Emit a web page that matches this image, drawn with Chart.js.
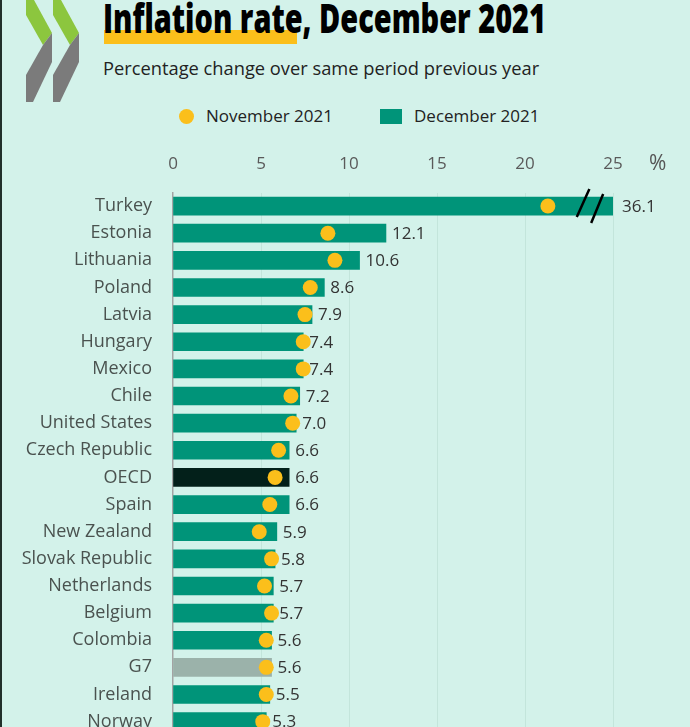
<!DOCTYPE html>
<html><head><meta charset="utf-8">
<script src="https://cdn.jsdelivr.net/npm/chart.js@4.4.1/dist/chart.umd.min.js"></script>
<style>
html,body{margin:0;padding:0;}
body{width:690px;height:727px;overflow:hidden;background:#d3f2ea;position:relative;font-family:"Open Sans",sans-serif;}
#edge{position:absolute;left:0;top:0;width:2px;height:727px;background:#22302b;}
#logo{position:absolute;left:0;top:0;}
#hl{position:absolute;left:104px;top:30px;width:193px;height:14px;background:#fbbf1b;}
#title{position:absolute;left:103px;top:-2px;font-weight:800;font-size:40px;line-height:40px;white-space:nowrap;transform-origin:0 0;color:#000;}
#sub{position:absolute;left:103px;top:56px;font-size:18.3px;line-height:24px;white-space:nowrap;color:#222;}
.lg{position:absolute;font-size:17px;line-height:24px;white-space:nowrap;color:#222;top:104px;}
#dot{position:absolute;left:178.5px;top:108.5px;width:15px;height:15px;border-radius:50%;background:#fbbf1b;}
#sq{position:absolute;left:380px;top:109px;width:22px;height:15px;background:#009479;}
#wrap{position:absolute;left:0;top:140px;width:690px;height:627px;}
</style></head>
<body>
<svg id="logo" width="100" height="110">
  <polygon points="26,0 34,0 52,33 43,45 26,15" fill="#8cc63e"/>
  <polygon points="52,33 52,62 33,102 26,102 26,75 43,45" fill="#7b7b7b"/>
  <polygon points="53,0 61,0 79,33 70,45 53,15" fill="#8cc63e"/>
  <polygon points="79,33 79,62 60,102 53,102 53,75 70,45" fill="#7b7b7b"/>
</svg>
<div id="edge"></div>
<div id="hl"></div>
<div id="title">Inflation rate, December 2021</div>
<div id="sub">Percentage change over same period previous year</div>
<div id="dot"></div><div class="lg" style="left:206px">November 2021</div>
<div id="sq"></div><div class="lg" style="left:414px">December 2021</div>
<div id="wrap"><canvas id="c" width="690" height="627" style="width:690px;height:627px"></canvas></div>
<script>
const categories = ["Turkey","Estonia","Lithuania","Poland","Latvia","Hungary","Mexico","Chile","United States","Czech Republic","OECD","Spain","New Zealand","Slovak Republic","Netherlands","Belgium","Colombia","G7","Ireland","Norway"];
const dec2021 = [36.1,12.1,10.6,8.6,7.9,7.4,7.4,7.2,7.0,6.6,6.6,6.6,5.9,5.8,5.7,5.7,5.6,5.6,5.5,5.3];
const nov2021 = [21.3,8.8,9.2,7.8,7.5,7.4,7.4,6.7,6.8,6.0,5.8,5.5,4.9,5.6,5.2,5.6,5.3,5.3,5.3,5.1];
const xTickStep = 5;
const xMax = 25;
const breakAt = [23.3, 24.1];

const t = document.getElementById('title');
const w = t.getBoundingClientRect().width;
t.style.transform = 'scaleX(' + (443 / w) + ')';

const barColors = categories.map(c => c === 'OECD' ? '#03201a' : (c === 'G7' ? '#9bb2aa' : '#009479'));

const labelsPlugin = {
  id: 'labels',
  afterDatasetsDraw(chart) {
    const ctx = chart.ctx;
    const area = chart.chartArea;
    const meta = chart.getDatasetMeta(1);
    ctx.save();
    ctx.font = '17px "Open Sans"';
    ctx.fillStyle = '#333';
    ctx.textBaseline = 'middle';
    ctx.textAlign = 'left';
    meta.data.forEach((bar, i) => {
      const clipped = bar.x > area.right;
      const x = Math.min(bar.x, area.right) + (clipped ? 9 : 6);
      ctx.fillText(dec2021[i].toFixed(1), x, bar.y + 1);
    });
    const xs = chart.scales.x;
    meta.data.forEach((bar, i) => {
      if (dec2021[i] <= xMax) return;
      ctx.strokeStyle = '#000';
      ctx.lineWidth = 2.5;
      const x1 = xs.getPixelForValue(breakAt[0]);
      const x2 = xs.getPixelForValue(breakAt[1]);
      ctx.beginPath();
      ctx.moveTo(x1 + 6.3, bar.y - 17); ctx.lineTo(x1 - 6.3, bar.y + 11);
      ctx.moveTo(x2 + 6, bar.y - 12); ctx.lineTo(x2 - 6, bar.y + 17);
      ctx.stroke();
    });
    ctx.font = '21px "Open Sans"';
    ctx.fillStyle = '#555';
    ctx.fillText('%', 649, 24);
    ctx.restore();
  }
};

new Chart(document.getElementById('c'), {
  type: 'bar',
  data: {
    labels: categories,
    datasets: [
      {
        type: 'line',
        label: 'November 2021',
        data: nov2021,
        indexAxis: 'y',
        showLine: false,
        pointRadius: 7.5,
        pointHoverRadius: 7.5,
        pointBackgroundColor: '#fbbf1b',
        pointBorderWidth: 0,
        borderColor: '#fbbf1b',
        backgroundColor: '#fbbf1b',
        order: 0,
        clip: false
      },
      {
        type: 'bar',
        label: 'December 2021',
        data: dec2021,
        backgroundColor: barColors,
        barThickness: 18,
        order: 1
      }
    ]
  },
  options: {
    indexAxis: 'y',
    responsive: false,
    animation: false,
    layout: { padding: { left: 0, right: 77, top: 0, bottom: 6.2 } },
    plugins: { legend: { display: false }, tooltip: { enabled: false } },
    scales: {
      x: {
        position: 'top',
        min: 0, max: xMax,
        ticks: { stepSize: xTickStep, padding: 18, color: '#5a5a5a', font: { family: '"Open Sans"', size: 17 } },
        grid: { drawTicks: false, color: ctx => ctx.tick && ctx.tick.value === 0 ? 'rgba(0,0,0,0)' : '#c3e5db', lineWidth: 1 },
        border: { display: false },
        afterFit(s) { s.height = 52.5; }
      },
      y: {
        ticks: { padding: 21, color: '#4a524f', font: { family: '"Open Sans"', size: 18 } },
        grid: { display: false, drawTicks: false },
        border: { display: true, color: '#a3a3a3', width: 1.5 },
        afterFit(s) { s.width = 173; }
      }
    }
  },
  plugins: [labelsPlugin]
});
</script>
</body></html>
